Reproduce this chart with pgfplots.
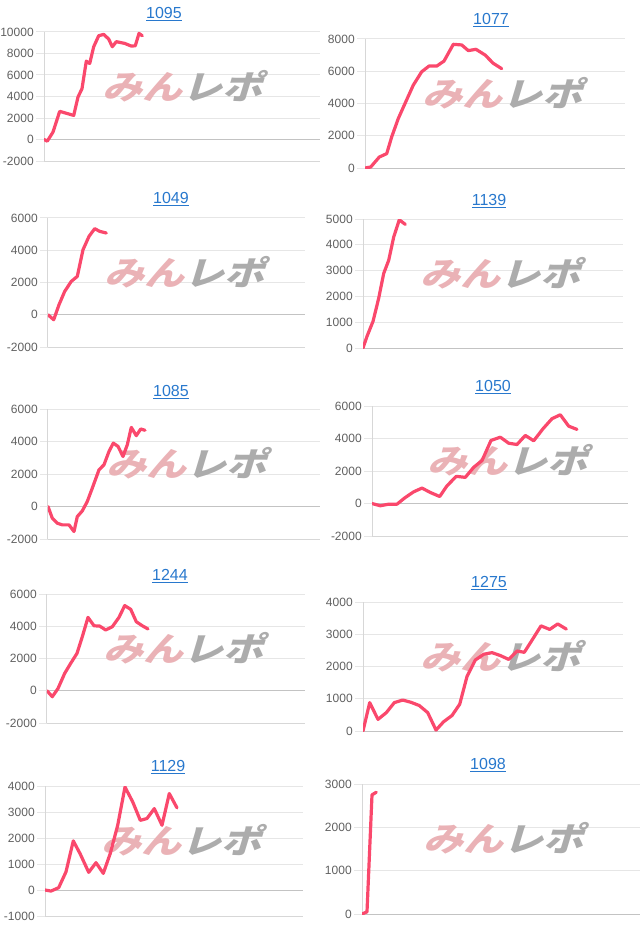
\documentclass[border=0pt]{standalone}
\usepackage{pgfplots}
\pgfplotsset{compat=1.18}
\usepackage{fontspec}
\setmainfont{Liberation Sans}
\newfontfamily\wmfont{Noto Sans CJK JP}[FakeSlant=0.3,FakeStretch=1.2]
\definecolor{linered}{RGB}{250,72,108}
\definecolor{gridgray}{RGB}{230,230,230}
\definecolor{zerogray}{RGB}{195,195,195}
\definecolor{axisgray}{RGB}{215,215,215}
\definecolor{ticktext}{RGB}{96,96,96}
\definecolor{linkblue}{RGB}{40,120,205}
\definecolor{wmpink}{RGB}{234,178,182}
\definecolor{wmgray}{RGB}{172,172,172}
\pgfplotsset{
  panel/.style={
    scale only axis, anchor=south west,
    xmin=0, xtick=\empty,
    axis x line*=bottom, axis y line*=left,
    axis line style={draw=axisgray, line width=0.75pt},
    ymajorgrids, grid style={draw=gridgray, line width=0.75pt},
    tick align=outside, major tick length=6pt,
    ytick style={draw=gridgray, line width=0.75pt},
    yticklabel style={font=\fontsize{9}{10}\selectfont, text=ticktext, xshift=1.8pt},
    /pgf/number format/assume math mode=true,
    /pgf/number format/1000 sep={},
    scaled y ticks=false,
    extra y ticks={0}, extra y tick labels={},
    extra y tick style={major grid style={draw=zerogray, line width=0.75pt}},
  },
  redline/.style={linered, line width=2.4pt, line join=round, line cap=round},
}
\newcommand\wm[1][0.53]{\node at (rel axis cs:#1,0.58) {\wmfont\bfseries\fontsize{25}{25}\selectfont\textcolor{wmpink}{みん}\textcolor{wmgray}{レポ}};}
\newcommand\ttl[3]{\node[text=linkblue, font=\fontsize{12}{14}\selectfont] at (#1,#2) {\underline{#3}};}
\begin{document}
\begin{tikzpicture}
\useasboundingbox (0,0) rectangle (480pt,-698.25pt);
% 1 - 1095
\begin{axis}[panel, at={(33pt,-120.75pt)}, width=207pt, height=96.75pt, xmax=276, ymin=-2000, ymax=10000, ytick={-2000,0,2000,4000,6000,8000,10000}]
\wm[0.50]
\addplot[redline] coordinates {(0,0)(3.3,-150)(9,690)(15.7,2620)(29.7,2240)(34,3950)(38,4730)(42.3,7290)(45.7,7070)(49.7,8630)(54.7,9650)(59.7,9780)(64.7,9340)(68.3,8630)(72.3,9100)(80.7,8940)(87.3,8690)(91.3,8720)(95,9870)(98.3,9650)};
\end{axis}
% 2 - 1077
\begin{axis}[panel, at={(273.75pt,-126pt)}, width=195pt, height=96.75pt, xmax=260, ymin=0, ymax=8000, ytick={0,2000,4000,6000,8000}]
\wm
\addplot[redline] coordinates {(0,0)(5.7,60)(14.3,680)(21.7,890)(26.7,1930)(33.3,3070)(40,4000)(48.3,5140)(56.7,5970)(64,6320)(71.7,6320)(79,6630)(88.3,7670)(96.7,7630)(103.3,7280)(111,7360)(120,7010)(128.3,6490)(136.7,6160)};
\end{axis}
% 3 - 1049
\begin{axis}[panel, at={(36pt,-260.25pt)}, width=192.75pt, height=96.75pt, xmax=257, ymin=-2000, ymax=6000, ytick={-2000,0,2000,4000,6000}]
\wm
\addplot[redline] coordinates {(0,0)(5.7,-310)(11,620)(16.7,1450)(23.3,2070)(29.3,2380)(35,4030)(41,4860)(46.7,5340)(51.7,5170)(58.3,5070)};
\end{axis}
% 4 - 1139
\begin{axis}[panel, at={(272.25pt,-261pt)}, width=195pt, height=96.75pt, xmax=260, ymin=0, ymax=5000, ytick={0,1000,2000,3000,4000,5000}]
\wm
\addplot[redline] coordinates {(0,0)(4,450)(10,1030)(15.7,1930)(20.7,2890)(25.7,3400)(30.7,4300)(36.3,4970)(42.3,4790)};
\end{axis}
% 5 - 1085
\begin{axis}[panel, at={(36pt,-404.25pt)}, width=204pt, height=97.5pt, xmax=272, ymin=-2000, ymax=6000, ytick={-2000,0,2000,4000,6000}]
\wm[0.51]
\addplot[redline] coordinates {(0,0)(4.3,-720)(9.3,-1030)(14.3,-1130)(21,-1130)(26,-1540)(29.3,-620)(34.3,-270)(39.3,310)(44.3,1130)(51,2260)(56,2570)(61,3390)(65.3,3900)(70,3700)(75,3080)(79.3,3800)(83.3,4870)(88.3,4360)(92.7,4770)(97,4690)};
\end{axis}
% 6 - 1050
\begin{axis}[panel, at={(279pt,-402pt)}, width=192pt, height=97.5pt, xmax=256, ymin=-2000, ymax=6000, ytick={-2000,0,2000,4000,6000}]
\wm
\addplot[redline] coordinates {(0,0)(8.3,-140)(16.7,-40)(25,-40)(33.3,370)(41.7,720)(50,950)(58.3,680)(67.7,430)(75,1090)(84.3,1670)(93.3,1610)(101.7,2230)(110,2640)(119,3880)(128.3,4080)(136.7,3710)(145,3630)(153.3,4190)(161.7,3860)(171,4600)(180,5220)(188.3,5460)(196.7,4760)(205,4560)};
\end{axis}
% 7 - 1244
\begin{axis}[panel, at={(35.25pt,-542.25pt)}, width=193.5pt, height=96.75pt, xmax=258, ymin=-2000, ymax=6000, ytick={-2000,0,2000,4000,6000}]
\wm
\addplot[redline] coordinates {(0,0)(5.3,-370)(11,140)(17.7,1080)(23.7,1700)(30,2320)(35.3,3350)(41,4550)(47,4030)(52.7,4010)(58.7,3770)(65.3,3970)(72,4550)(77.7,5280)(83.7,5050)(89.3,4280)(95.3,4030)(101,3830)};
\end{axis}
% 8 - 1275
\begin{axis}[panel, at={(272.25pt,-548.25pt)}, width=195pt, height=96.75pt, xmax=260, ymin=0, ymax=4000, ytick={0,1000,2000,3000,4000}]
\wm
\addplot[redline] coordinates {(0,0)(6.7,880)(15,360)(23.3,570)(31.3,880)(39.7,960)(48,890)(56.3,790)(64.7,570)(73,30)(80.7,290)(89,480)(96.7,830)(104,1690)(112.3,2200)(120.7,2380)(129,2430)(137.3,2340)(145.7,2220)(154,2480)(161.3,2440)(169.7,2850)(178,3260)(186.7,3150)(194.7,3320)(203.3,3160)};
\end{axis}
% 9 - 1129
\begin{axis}[panel, at={(33.75pt,-687pt)}, width=193.5pt, height=97.5pt, xmax=258, ymin=-1000, ymax=4000, ytick={-1000,0,1000,2000,3000,4000}]
\wm
\addplot[redline] coordinates {(0,0)(6,-40)(13.7,90)(21,700)(28.3,1890)(35.3,1380)(43.7,680)(51,1050)(58.3,640)(65.3,1410)(72.7,2490)(80,3960)(87.7,3390)(95.3,2680)(102,2750)(109.3,3130)(117,2490)(124.3,3710)(132,3160)};
\end{axis}
% 10 - 1098
\begin{axis}[panel, at={(271.5pt,-685.5pt)}, width=208.5pt, height=97.5pt, xmax=278, ymin=0, ymax=3000, ytick={0,1000,2000,3000}]
\wm[0.51]
\addplot[redline] coordinates {(0,0)(5,50)(10,2750)(14.3,2810)};
\end{axis}
\ttl{123pt}{-10.5pt}{1095}
\ttl{368.25pt}{-15pt}{1077}
\ttl{128.25pt}{-149.25pt}{1049}
\ttl{366.75pt}{-150.75pt}{1139}
\ttl{128.25pt}{-294pt}{1085}
\ttl{369.75pt}{-290.25pt}{1050}
\ttl{127.5pt}{-432pt}{1244}
\ttl{366.75pt}{-437.25pt}{1275}
\ttl{126pt}{-575.25pt}{1129}
\ttl{366pt}{-573.75pt}{1098}
\end{tikzpicture}
\end{document}
